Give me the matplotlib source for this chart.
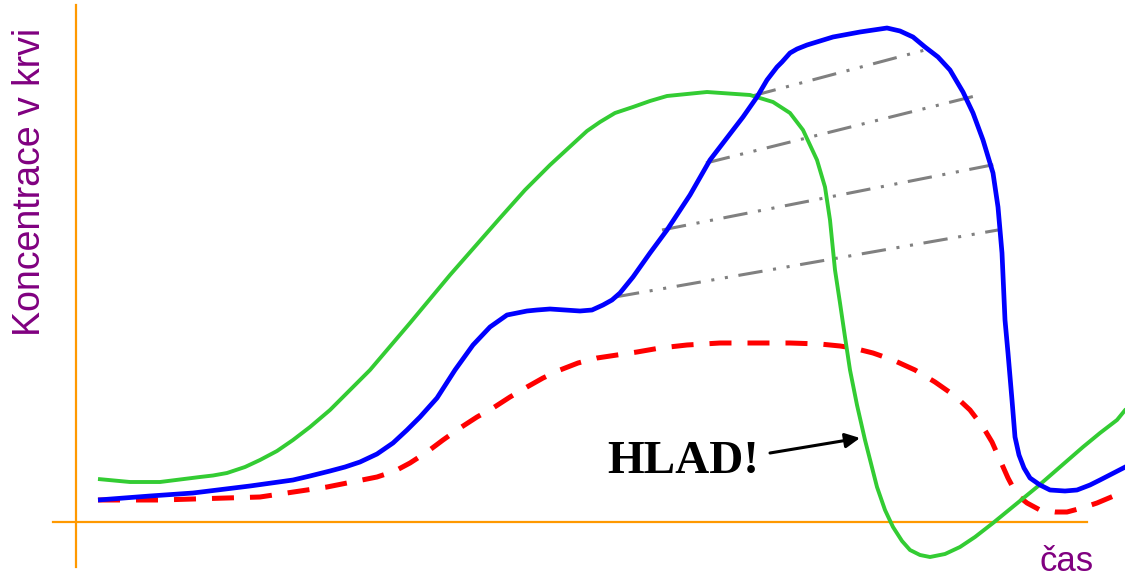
"""Schéma: koncentrace látek v krvi v čase (HLAD!)."""

import matplotlib
matplotlib.use("Agg")
import matplotlib.pyplot as plt

# čas / koncentrace (libovolné jednotky, počátek = průsečík os)
green_t = [2.2, 5.4, 8.4, 12.4, 13.7, 15.1, 16.9, 18.4, 20.1, 21.7, 23.4, 25.4, 29.4,
           33.4, 37.4, 42.4, 44.9, 47.4, 49.9, 51.1, 52.4, 53.9, 55.7, 57.4, 59.1,
           63.1, 67.4, 69.7, 71.4, 72.7, 74.1, 74.9, 75.4, 75.9, 76.4, 76.9, 77.4,
           78.1, 78.9, 80.1, 80.9, 81.7, 82.6, 83.4, 84.4, 85.4, 86.9, 88.4, 89.9,
           91.7, 96.1, 100.7, 102.4, 104.1, 105.9]
green_c = [4.3, 4.0, 4.0, 4.5, 4.65, 4.9, 5.5, 6.2, 7.1, 8.2, 9.5, 11.2, 15.2,
           19.9, 24.7, 30.4, 33.2, 35.7, 38.0, 39.1, 40.0, 40.9, 41.5, 42.1, 42.6,
           43.0, 42.7, 42.0, 40.9, 39.2, 36.2, 33.5, 30.2, 25.2, 21.9, 18.5, 15.2,
           11.7, 8.2, 3.5, 1.2, -0.5, -1.9, -2.8, -3.3, -3.5, -3.2, -2.5, -1.5,
           -0.1, 3.5, 7.5, 8.9, 10.2, 12.4]

blue_t = [2.2, 7.4, 11.7, 17.4, 21.7, 23.4, 25.4, 26.9, 28.4, 30.1, 31.7, 33.1, 34.4,
          36.1, 37.9, 39.7, 41.4, 43.1, 45.1, 46.1, 47.4, 48.9, 50.4, 51.6, 52.7,
          53.6, 54.4, 55.7, 57.4, 59.1, 61.4, 63.4, 65.7, 66.7, 68.1, 69.1, 70.1,
          70.6, 71.4, 72.1, 73.1, 75.7, 78.4, 81.1, 82.4, 83.7, 84.9, 86.2, 87.4,
          88.7, 89.7, 90.7, 91.7, 92.2, 92.6, 92.9, 93.2, 93.6, 93.9, 94.3, 94.8,
          95.4, 96.4, 97.4, 98.9, 100.1, 101.4, 102.4, 105.9]
blue_c = [2.2, 2.6, 2.9, 3.6, 4.2, 4.6, 5.1, 5.5, 6.0, 6.8, 7.9, 9.2, 10.5,
          12.4, 15.2, 17.7, 19.5, 20.7, 21.1, 21.2, 21.3, 21.2, 21.1, 21.2, 21.7,
          22.2, 22.9, 24.5, 26.9, 29.2, 32.7, 36.2, 39.2, 40.5, 42.5, 44.2, 45.5,
          46.0, 46.9, 47.3, 47.7, 48.5, 49.0, 49.4, 49.1, 48.5, 47.5, 46.5, 45.2,
          43.0, 40.9, 38.2, 34.9, 31.5, 26.9, 20.2, 16.9, 12.2, 8.5, 6.7, 5.4,
          4.4, 3.7, 3.2, 3.1, 3.2, 3.7, 4.2, 6.0]

red_t = [2.2, 8.4, 18.4, 25.1, 30.1, 31.9, 33.4, 35.1, 36.7, 38.4, 40.1, 41.7, 43.4,
         45.1, 46.7, 48.4, 50.2, 52.1, 54.1, 56.1, 58.4, 61.1, 64.4, 67.7, 71.4,
         74.4, 76.4, 77.7, 79.7, 81.7, 83.9, 85.9, 87.9, 89.4, 90.7, 91.6, 92.4,
         93.2, 94.1, 95.1, 96.4, 97.9, 99.1, 100.6, 102.1, 105.9]
red_c = [2.2, 2.2, 2.5, 3.5, 4.5, 5.1, 5.9, 7.0, 8.2, 9.4, 10.5, 11.4, 12.5,
         13.5, 14.4, 15.2, 15.9, 16.4, 16.7, 17.0, 17.4, 17.7, 17.9, 17.9, 17.9,
         17.8, 17.6, 17.4, 16.9, 16.2, 15.2, 14.0, 12.6, 11.2, 9.5, 8.0, 6.2,
         4.4, 2.7, 1.9, 1.2, 1.0, 1.0, 1.4, 1.9, 3.5]

# spojnice mezi vzestupnou a sestupnou větví modré křivky
link_t0 = [53.9, 58.6, 63.0, 67.6]
link_c0 = [22.5, 29.2, 35.9, 42.6]
link_t1 = [92.2, 92.1, 89.9, 84.9]
link_c1 = [29.2, 35.8, 42.6, 47.2]

ORANGE = "#ff9900"
PURPLE = "#800080"

fig = plt.figure(figsize=(11.25, 5.77), dpi=100)
ax = fig.add_axes([0, 0, 1, 1])
ax.set_xlim(-7.6, 104.9)
ax.set_ylim(-5.5, 52.2)
ax.axis("off")

# osy
ax.plot([-2.3, 101.1], [0, 0], color=ORANGE, lw=1.6, zorder=1)
ax.plot([0, 0], [-4.5, 51.7], color=ORANGE, lw=1.6, zorder=1)

# křivky
ax.plot(green_t, green_c, color="#33cc33", lw=2.8, solid_capstyle="butt",
        solid_joinstyle="round", zorder=3)
ax.plot(blue_t, blue_c, color="#0000ff", lw=3.4, solid_capstyle="butt",
        solid_joinstyle="round", zorder=4)
ax.plot(red_t, red_c, color="#ff0000", lw=3.6, dashes=(4.4, 3.2),
        dash_capstyle="butt", zorder=2)

for t0, c0, t1, c1 in zip(link_t0, link_c0, link_t1, link_c1):
    ax.plot([t0, t1], [c0, c1], color="#808080", lw=2.2,
            dashes=(8, 3.5, 1, 3.5, 1, 3.5), dash_capstyle="butt", zorder=2)

# popisky
ax.text(-4.6, 34.0, "Koncentrace v krvi", rotation=90, ha="center", va="center",
        fontsize=27, color=PURPLE, family="Liberation Sans")
ax.text(99.1, -4.9, "čas", ha="center", va="baseline", fontsize=25,
        color=PURPLE, family="Liberation Sans")
ax.text(60.7, 6.0, "HLAD!", ha="center", va="center", fontsize=34,
        fontweight="bold", color="black", family="Liberation Serif")
ax.annotate("", xy=(78.4, 8.4), xytext=(69.4, 6.9),
            arrowprops=dict(arrowstyle="-|>", color="black", lw=2.2,
                            mutation_scale=22, shrinkA=0, shrinkB=0))

fig.savefig("out.png", dpi=100, facecolor="white")
